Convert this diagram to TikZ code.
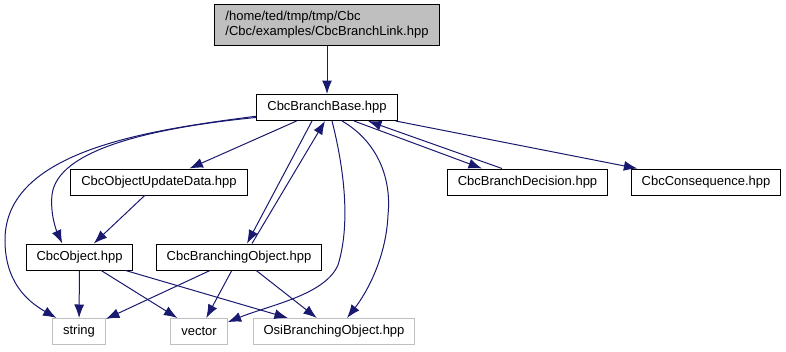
\documentclass[tikz,border=0pt]{standalone}
\usepackage{fontspec}
\setmainfont{Liberation Sans}
\usetikzlibrary{arrows.meta,calc}
\definecolor{edgeblue}{HTML}{191970}
\definecolor{extgrey}{HTML}{BFBFBF}
\tikzset{>={Latex[length=13.5pt,width=10pt]}}
\tikzstyle{file}=[
	 rectangle, draw=black, line width=1pt,
	 inner xsep=10.5pt, inner ysep=0pt,
	 minimum height=26pt,
	 font=\fontsize{13}{15}\selectfont
    ]
\tikzstyle{extfile}=[file, draw=extgrey]
\tikzstyle{root}=[file, fill=extgrey, align=left, minimum height=41pt]
\tikzstyle{dep}=[->, color=edgeblue, line width=1pt]
\newcommand{\incl}[2]{\draw[dep] (#1) -- (#2)}

\begin{document}
\begin{tikzpicture}[x=1pt,y=-1pt]
\useasboundingbox (0,0) rectangle (786,351);

\node[root] (link) at (327,24.5) {/home/ted/tmp/tmp/Cbc\\/Cbc/examples/CbcBranchLink.hpp};
\node[file] (base) at (327,107.5) {CbcBranchBase.hpp};
\node[file] (upd) at (159,182) {CbcObjectUpdateData.hpp};
\node[file] (decision) at (527.5,182) {CbcBranchDecision.hpp};
\node[file] (conseq) at (706,182) {CbcConsequence.hpp};
\node[file] (object) at (79.5,257) {CbcObject.hpp};
\node[file] (branching) at (239,257) {CbcBranchingObject.hpp};
\node[extfile] (string) at (79,331.5) {string};
\node[extfile] (vector) at (199,331.5) {vector};
\node[extfile] (osi) at (334,331.5) {OsiBranchingObject.hpp};

\incl{link}{base};
\draw[dep] (base.187) .. controls (150,130) and (5,150) .. (5,240) .. controls (5,280) and (25,300) .. (string.149);
\draw[dep] (base.188) .. controls (150,128) and (57,150) .. (52,195) .. controls (50,215) and (57,232) .. (object.142);
\incl{base}{upd};
\draw[dep] ($(base.south)+(-15,0)$) -- ($(branching.north)+(8,0)$);
\draw[dep] ($(branching.north)+(13,0)$) -- ($(base.south)+(-2,0)$);
\draw[dep] ($(base.south)+(5,0)$) .. controls (342,160) and (352,220) .. (338,265) .. controls (325,295) and (270,305) .. (vector.18);
\draw[dep] ($(base.south)+(15,0)$) .. controls (375,140) and (392,175) .. (388,215) .. controls (386,260) and (365,295) .. (osi.46);
\draw[dep] ($(base.south)+(27,0)$) -- ($(decision.north)+(-45.5,0)$);
\draw[dep] ($(decision.north)+(-25.5,0)$) -- ($(base.south)+(41,0)$);
\incl{base}{conseq};
\incl{upd}{object};
\incl{object}{string};
\incl{object}{vector};
\incl{object}{osi};
\incl{branching}{string};
\incl{branching}{vector};
\incl{branching}{osi};

\end{tikzpicture}
\end{document}
